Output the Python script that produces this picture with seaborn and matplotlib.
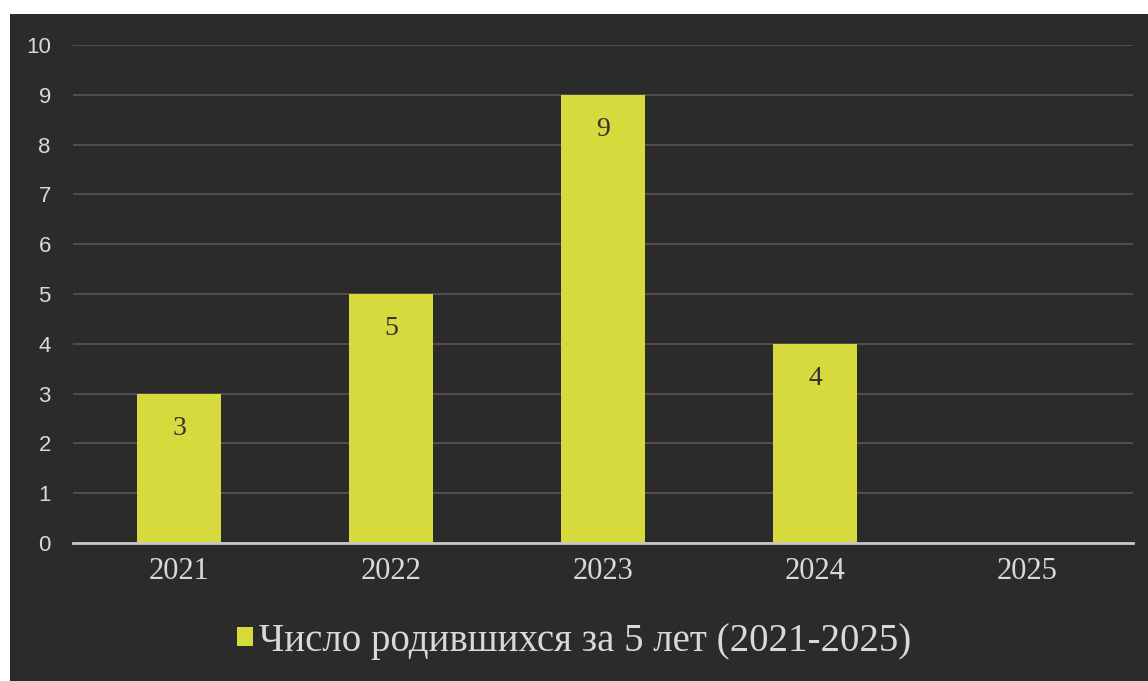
import matplotlib
matplotlib.use("Agg")
import matplotlib.pyplot as plt
from matplotlib.patches import Rectangle
import seaborn as sns
import pandas as pd

# values
years = ["2021", "2022", "2023", "2024", "2025"]
births = [3, 5, 9, 4, 0]
series_name = "Число родившихся за 5 лет (2021-2025)"
y_ticks = list(range(0, 11))

bg = "#2b2b2b"
bar_color = "#d6da3c"
light = "#d9d9d9"

sns.set_theme(style="dark")
plt.rcParams["font.family"] = ["Liberation Serif", "DejaVu Serif"]

df = pd.DataFrame({"year": years, "births": births})

fig = plt.figure(figsize=(11.48, 6.81), dpi=100)
fig.patch.set_facecolor("white")
# dark scanned panel with a thin white margin top/left
fig.patches.append(Rectangle((10 / 1148, 0), 1, (681 - 14) / 681,
                             transform=fig.transFigure, facecolor=bg,
                             edgecolor="none", zorder=-1))

ax = fig.add_axes([73 / 1148, 138 / 681, 1060 / 1148, 498 / 681])
ax.set_facecolor("none")

sns.barplot(data=df, x="year", y="births", order=years, color=bar_color,
            width=0.4, saturation=1, linewidth=0, label=series_name, ax=ax)

ax.bar_label(ax.containers[0],
             labels=[str(v) if v else "" for v in births],
             padding=-34, fontsize=20, color="#333333",
             family="Liberation Serif")

ax.set_ylim(0, 10)
ax.set_yticks(y_ticks)
ax.set_xlim(-0.5, len(years) - 0.5)
ax.yaxis.grid(True, color="#5e5256", linewidth=1.2)
ax.xaxis.grid(False)
ax.set_axisbelow(True)

for s in ["top", "right", "left"]:
    ax.spines[s].set_visible(False)
ax.spines["bottom"].set_color("#c8c8c8")
ax.spines["bottom"].set_linewidth(2)

ax.set_xlabel("")
ax.set_ylabel("")
ax.tick_params(axis="y", length=0, pad=16, labelsize=16, labelcolor=light)
ax.tick_params(axis="x", length=0, pad=10, labelsize=22, labelcolor=light)
for t in ax.get_yticklabels():
    t.set_family("Liberation Sans")

leg = ax.legend(loc="center", bbox_to_anchor=(0.5, 40 / 681),
                bbox_transform=fig.transFigure, frameon=False,
                fontsize=28, handlelength=0.4, handleheight=0.4,
                handletextpad=0.15, labelcolor=light)
for h in leg.legend_handles:
    h.set_linewidth(0)

fig.savefig("out.png", dpi=100, facecolor=fig.get_facecolor())
